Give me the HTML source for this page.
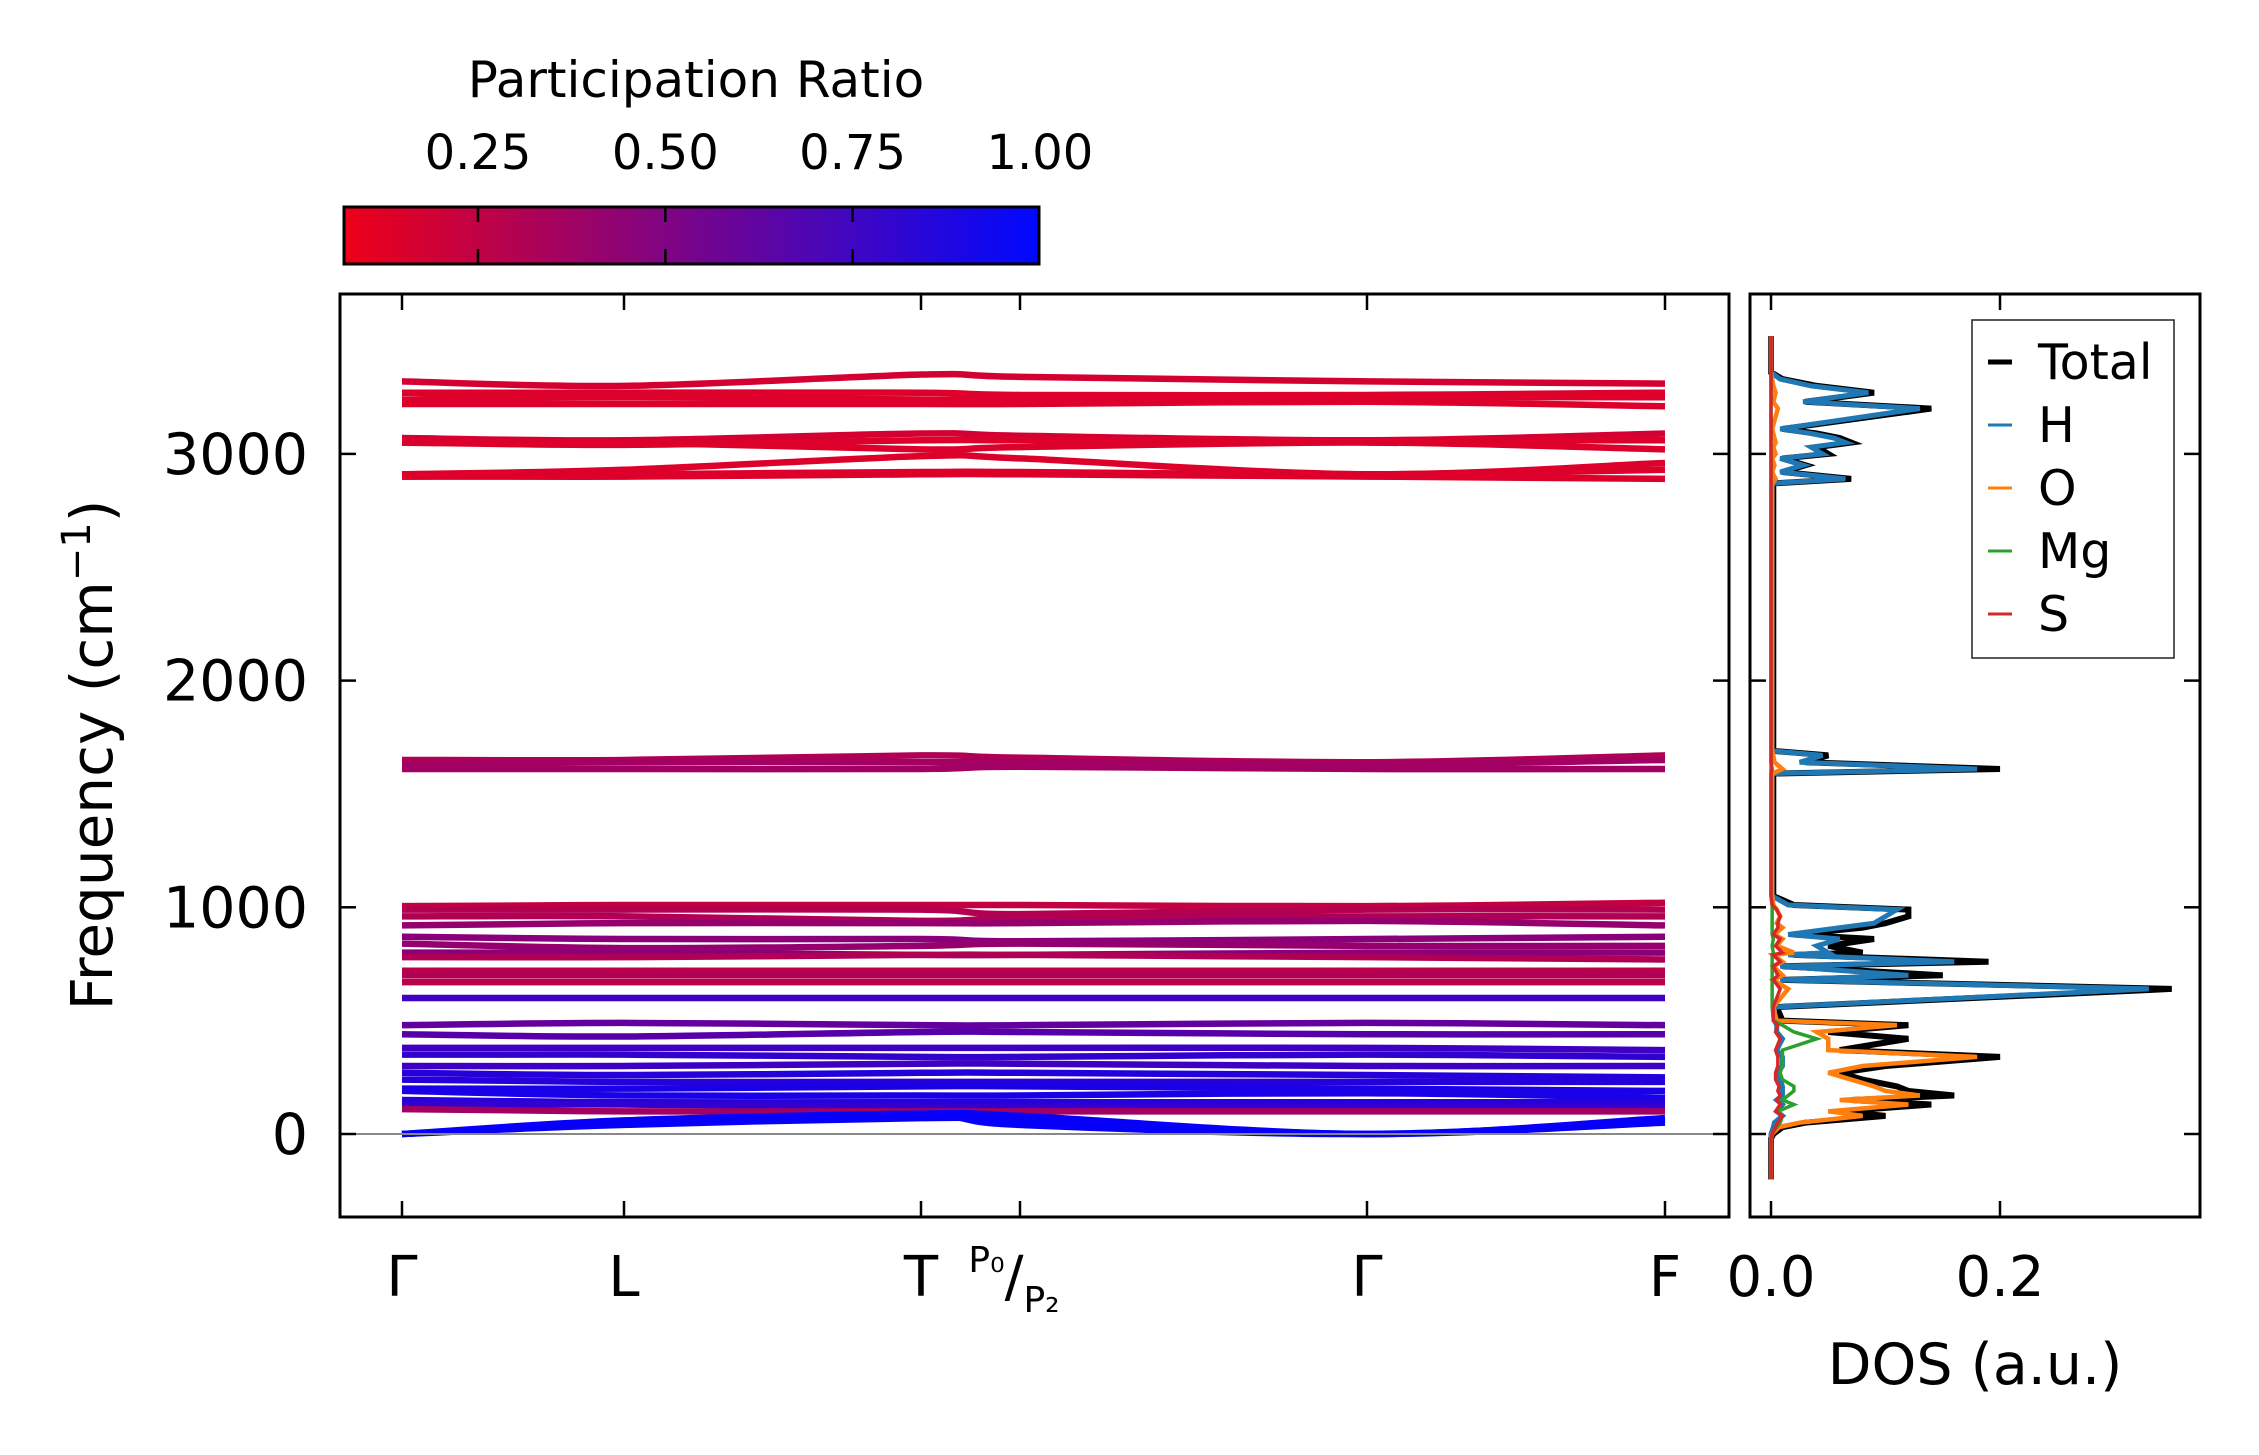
<!DOCTYPE html>
<html><head><meta charset="utf-8"><style>
html,body{margin:0;padding:0;background:#fff;}
svg{display:block;font-family:"DejaVu Sans","Liberation Sans",sans-serif;}
</style></head><body>
<svg id="fig" width="2259" height="1455" viewBox="0 0 2259 1455" xmlns="http://www.w3.org/2000/svg">
<defs>
<linearGradient id="cg" x1="0" x2="1" y1="0" y2="0">
<stop offset="0" stop-color="#ee0018"/><stop offset="1" stop-color="#0008ff"/>
</linearGradient>
<clipPath id="mainclip"><rect x="340" y="294" width="1389" height="923"/></clipPath>
<clipPath id="dosclip"><rect x="1750" y="294" width="450" height="923"/></clipPath>
</defs>
<g id="colorbar">
<text x="696" y="97" font-size="50" text-anchor="middle">Participation Ratio</text>
<rect x="344" y="207" width="695" height="57" fill="url(#cg)" stroke="#000" stroke-width="3"/>
<g id="cbticks"></g>
</g>
<g id="bands" clip-path="url(#mainclip)"></g>
<line x1="340" x2="1729" y1="1134" y2="1134" stroke="#888" stroke-width="2"/>
<rect x="340" y="294" width="1389" height="923" fill="none" stroke="#000" stroke-width="3"/>
<g id="mainticks"></g>
<text transform="translate(112,755) rotate(-90)" font-size="58" text-anchor="middle">Frequency (cm<tspan dy="-22" font-size="40">−1</tspan><tspan dy="22">)</tspan></text>
<g id="dos" clip-path="url(#dosclip)"></g>
<rect x="1750" y="294" width="450" height="923" fill="none" stroke="#000" stroke-width="3"/>
<g id="dosticks"></g>
<text x="1975" y="1384" font-size="57" text-anchor="middle">DOS (a.u.)</text>
<g>
<rect x="1972" y="320" width="202" height="338" fill="#fff" stroke="#222" stroke-width="1.5"/>
<g id="legend"></g>
</g>
</svg>
<script>
const NS="http://www.w3.org/2000/svg";
const kLabels=["Γ","L","T","P","Γ","F"];
const yTicks=[0,1000,2000,3000];
const cbTicks=[0.25,0.50,0.75,1.00];
const cbTickLabels=["0.25","0.50","0.75","1.00"];
const dosTicks=[0.0,0.2];
const dosTickLabels=["0.0","0.2"];
// band frequencies at the k-points Γ, L, T, P, Γ, F
const band01=[3320,3300,3350,3340,3320,3310];
const band02=[3270,3270,3270,3260,3260,3270];
const band03=[3240,3250,3240,3240,3250,3250];
const band04=[3220,3220,3220,3220,3230,3210];
const band05=[3070,3060,3090,3080,3060,3090];
const band06=[3050,3040,3060,3060,3060,3060];
const band07=[3050,3050,3020,3030,3050,3020];
const band08=[2910,2930,2990,2980,2910,2960];
const band09=[2900,2910,2920,2920,2910,2930];
const band10=[2900,2900,2910,2910,2900,2890];
const band11=[1650,1650,1670,1660,1640,1670];
const band12=[1630,1640,1640,1640,1630,1650];
const band13=[1610,1610,1610,1620,1610,1610];
const band14=[1005,1010,1010,1010,1005,1020];
const band15=[990,990,990,970,990,990];
const band16=[960,960,940,950,960,960];
const band17=[920,930,930,930,940,920];
const band18=[870,860,860,850,860,870];
const band19=[840,820,830,840,830,830];
const band20=[800,800,790,790,800,800];
const band21=[780,780,790,790,780,770];
const band22=[720,720,720,720,720,720];
const band23=[700,700,700,700,700,700];
const band24=[670,670,670,670,670,670];
const band25=[600,600,600,600,600,600];
const band26=[480,490,480,480,490,480];
const band27=[440,430,450,450,440,440];
const band28=[380,380,380,380,380,370];
const band29=[350,350,340,340,350,340];
const band30=[300,300,310,310,300,300];
const band31=[270,260,270,270,260,250];
const band32=[240,230,230,230,230,230];
const band33=[200,200,210,210,200,190];
const band34=[190,170,170,170,180,160];
const band35=[150,140,140,140,140,140];
const band36=[130,130,120,120,120,120];
const band37=[110,100,100,100,100,100];
const band38=[0,60,90,80,0,70];
const band39=[0,40,70,60,0,50];
const band40=[0,50,80,40,0,60];
const bands=[band01,band02,band03,band04,band05,band06,band07,band08,band09,band10,band11,band12,band13,band14,band15,band16,band17,band18,band19,band20,band21,band22,band23,band24,band25,band26,band27,band28,band29,band30,band31,band32,band33,band34,band35,band36,band37,band38,band39,band40];
const bandPR=[0.15,0.12,0.12,0.12,0.15,0.12,0.12,0.12,0.12,0.12,0.3,0.35,0.35,0.22,0.28,0.3,0.4,0.45,0.4,0.45,0.3,0.25,0.3,0.25,0.75,0.6,0.65,0.75,0.8,0.75,0.85,0.85,0.9,0.9,0.85,0.8,0.35,0.97,0.97,0.97];
// DOS
const dosFreq=[-200,-20,0,30,50,80,100,130,150,170,190,210,240,270,300,340,370,420,450,480,500,560,640,680,700,740,760,790,800,830,860,880,910,930,960,990,1010,1050,1590,1610,1640,1670,1690,2870,2890,2920,2950,2980,3000,3030,3050,3070,3090,3110,3200,3230,3270,3300,3330,3360,3520];
const dosTotal=[0,0,0.002,0.01,0.03,0.1,0.06,0.14,0.07,0.16,0.12,0.11,0.08,0.06,0.1,0.2,0.06,0.12,0.05,0.12,0.01,0.005,0.35,0.01,0.15,0.01,0.19,0.02,0.08,0.05,0.09,0.02,0.08,0.1,0.12,0.12,0.02,0.002,0.002,0.2,0.03,0.05,0.002,0.002,0.07,0.01,0.03,0.01,0.05,0.04,0.07,0.06,0.04,0.01,0.14,0.03,0.09,0.04,0.01,0,0];
const dosH=[0,0,0,0.002,0.003,0.01,0.005,0.01,0.005,0.01,0.01,0.01,0.008,0.006,0.01,0.01,0.005,0.01,0.005,0.005,0.003,0.003,0.33,0.008,0.12,0.008,0.16,0.015,0.05,0.04,0.06,0.015,0.06,0.09,0.1,0.11,0.015,0.001,0.001,0.18,0.025,0.045,0.001,0.001,0.065,0.008,0.028,0.008,0.045,0.035,0.065,0.055,0.035,0.008,0.13,0.028,0.085,0.035,0.008,0,0];
const dosO=[0,0,0.001,0.007,0.025,0.08,0.05,0.12,0.06,0.13,0.1,0.09,0.07,0.05,0.08,0.18,0.05,0.05,0.04,0.11,0.005,0.002,0.015,0.002,0.01,0.002,0.01,0.002,0.02,0.005,0.01,0.003,0.01,0.005,0.008,0.005,0.002,0.001,0.001,0.01,0.003,0.002,0.001,0.001,0.004,0.001,0.003,0.001,0.004,0.002,0.004,0.003,0.002,0.001,0.006,0.002,0.004,0.002,0.001,0,0];
const dosMg=[0,0,0.001,0.005,0.008,0.01,0.006,0.02,0.01,0.015,0.02,0.02,0.01,0.008,0.01,0.01,0.01,0.04,0.02,0.01,0.002,0.001,0.001,0.001,0.001,0.001,0.001,0.001,0.002,0.001,0.002,0.001,0.001,0.001,0.001,0.001,0.001,0,0,0,0,0,0,0,0,0,0,0,0,0,0,0,0,0,0,0,0,0,0,0,0];
const dosS=[0,0,0.001,0.004,0.006,0.01,0.004,0.008,0.005,0.008,0.006,0.007,0.004,0.004,0.006,0.006,0.004,0.008,0.004,0.006,0.002,0.002,0.008,0.002,0.006,0.002,0.008,0.002,0.01,0.004,0.008,0.002,0.006,0.006,0.008,0.005,0.001,0,0,0.001,0,0,0,0,0,0,0,0,0,0,0,0,0,0,0,0,0,0,0,0,0];
const legendNames=["Total","H","O","Mg","S"];
const legendColors=["#000000","#1f77b4","#ff7f0e","#2ca02c","#d62728"];

const kPix=[402,624,921,1020,1367,1665];
function xK(i){return kPix[i];}
function yF(f){return 1134-(f/1000)*226.7;}
function xDos(v){return 1771+v*1145;}
function xCb(v){return 478+(v-0.25)/0.25*187.3;}
function prColor(p){const t=Math.max(0,Math.min(1,(p-0.07)/0.93));return `rgb(${Math.round(232*(1-t))},0,${Math.round(30+225*t)})`;}
function mk(tag,attrs,parent){const e=document.createElementNS(NS,tag);for(const k in attrs)e.setAttribute(k,attrs[k]);parent.appendChild(e);return e;}

const cbt=document.getElementById('cbticks');
cbTicks.forEach((v,i)=>{const x=xCb(v);
 if(v<1){const a=mk('line',{x1:x,x2:x,y1:207,y2:222,stroke:'#000','stroke-width':2.5},cbt);
 
 
 const b=mk('line',{x1:x,x2:x,y1:249,y2:264,stroke:'#000','stroke-width':2.5},cbt);
 
 }
 const t=mk('text',{x:x,y:169,'font-size':48,'text-anchor':'middle'},cbt);t.textContent=cbTickLabels[i];
 
 
});

const bg=document.getElementById('bands');
bands.forEach((b,bi)=>{
 const pts=b.map((f,i)=>[xK(i),yF(f)]);
 let d=`M${pts[0][0]},${pts[0][1]}`;
 for(let i=0;i<pts.length-1;i++){const p0=pts[Math.max(0,i-1)],p1=pts[i],p2=pts[i+1],p3=pts[Math.min(pts.length-1,i+2)];
  const c1=[p1[0]+(p2[0]-p0[0])/6,p1[1]+(p2[1]-p0[1])/6],c2=[p2[0]-(p3[0]-p1[0])/6,p2[1]-(p3[1]-p1[1])/6];
  d+=` C${c1[0]},${c1[1]} ${c2[0]},${c2[1]} ${p2[0]},${p2[1]}`;}
 const p=mk('path',{d:d,fill:'none',stroke:prColor(bandPR[bi]),'stroke-width':6.5},bg);
 
 
});

const mt=document.getElementById('mainticks');
kLabels.forEach((l,i)=>{const x=xK(i);
 const a=mk('line',{x1:x,x2:x,y1:294,y2:310,stroke:'#000','stroke-width':2.5},mt);
 
 
 const b=mk('line',{x1:x,x2:x,y1:1201,y2:1217,stroke:'#000','stroke-width':2.5},mt);
 
 
 const t=mk('text',{x:l==='P'?x-6:x,y:1296,'font-size':56,'text-anchor':'middle'},mt);
 if(l==='P'){t.innerHTML='<tspan font-size="36" dy="-24">P₀</tspan><tspan dy="24">/</tspan><tspan font-size="36" dy="16">P₂</tspan>';}
 else{t.textContent=l;}
 
 
});
yTicks.forEach(v=>{const y=yF(v);
 [[340,356],[1713,1729],[1750,1766],[2184,2200]].forEach(([x1,x2])=>{const a=mk('line',{x1:x1,x2:x2,y1:y,y2:y,stroke:'#000','stroke-width':2.5},mt);
 
 });
 const t=mk('text',{x:308,y:y+20,'font-size':57,'text-anchor':'end'},mt);t.textContent=String(v);
 
 
});

const dg=document.getElementById('dos');
function dosLine(arr,color,w,name){const d=arr.map((v,i)=>(i?'L':'M')+xDos(v)+','+yF(dosFreq[i])).join(' ');
 const p=mk('path',{d:d,fill:'none',stroke:color,'stroke-width':w},dg);
 
 }
dosLine(dosTotal,'#000',6,'dos-total');
dosLine(dosH,'#1f77b4',5,'dos-h');
dosLine(dosO,'#ff7f0e',4.5,'dos-o');
dosLine(dosMg,'#2ca02c',3.5,'dos-mg');
dosLine(dosS,'#d62728',3.5,'dos-s');
const dt=document.getElementById('dosticks');
dosTicks.forEach((v,i)=>{const x=xDos(v);
 const a=mk('line',{x1:x,x2:x,y1:294,y2:310,stroke:'#000','stroke-width':2.5},dt);
 
 
 const b=mk('line',{x1:x,x2:x,y1:1201,y2:1217,stroke:'#000','stroke-width':2.5},dt);
 
 
 const t=mk('text',{x:x,y:1296,'font-size':56,'text-anchor':'middle'},dt);t.textContent=dosTickLabels[i];
 
 
});
const lg=document.getElementById('legend');
legendNames.forEach((n,i)=>{const y=362+i*63;
 const l=mk('line',{x1:1988,x2:2012,y1:y,y2:y,stroke:legendColors[i],'stroke-width':i?3:5},lg);
 
 
 const t=mk('text',{x:2038,y:y+17,'font-size':49},lg);t.textContent=n;
 
 
});
</script>
</body></html>
